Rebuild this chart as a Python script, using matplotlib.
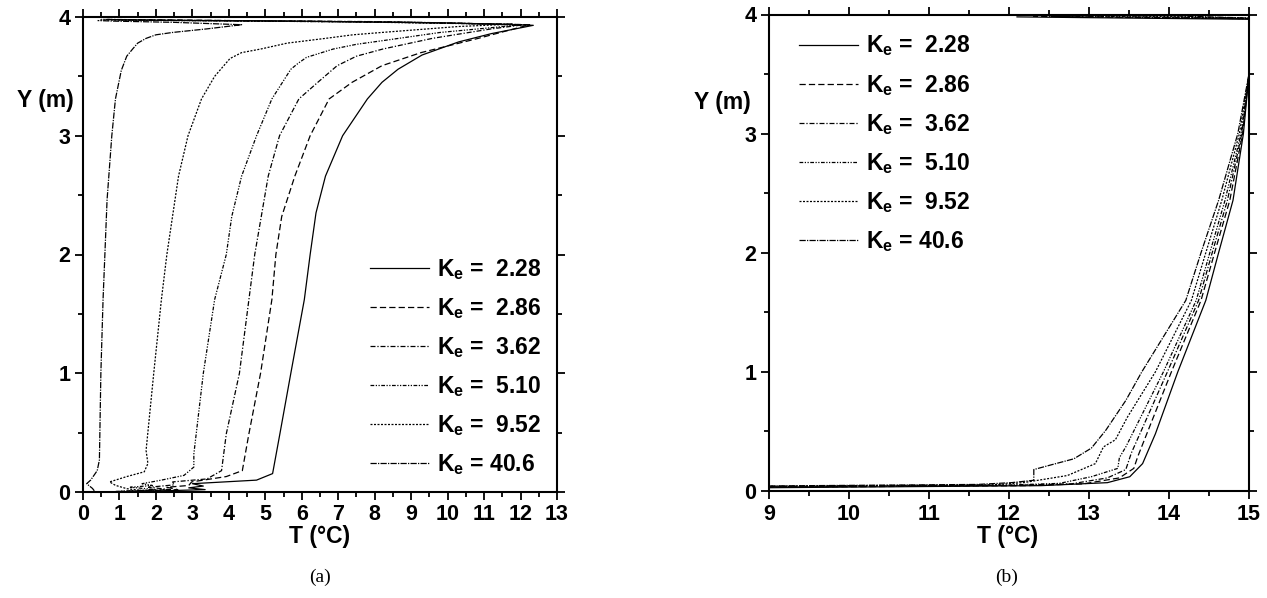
import matplotlib
matplotlib.use("Agg")
import matplotlib.pyplot as plt
from matplotlib.ticker import MultipleLocator

plt.rcParams['font.family'] = ['Liberation Sans Narrow', 'Liberation Sans', 'DejaVu Sans']
plt.rcParams['mathtext.fontset'] = 'custom'
plt.rcParams['mathtext.bf'] = 'Liberation Sans:bold'
plt.rcParams['mathtext.rm'] = 'Liberation Sans:bold'
plt.rcParams['mathtext.default'] = 'bf'

labels = ["2.28", "2.86", "3.62", "5.10", "9.52", "40.6"]

# ---------- panel (a) ----------
a_T_228 = [1.6, 3.35, 2.9, 3.3, 3.0, 4.76, 5.2, 5.4, 5.7, 6.07, 6.23, 6.39, 6.65, 7.12, 7.8, 8.2, 8.64, 9.3, 10.3, 11.2, 12.35, 10.0, 6.0, 1.0]
a_Y_228 = [0.005, 0.02, 0.035, 0.05, 0.07, 0.10, 0.155, 0.49, 1.0, 1.62, 2.0, 2.35, 2.66, 3.0, 3.31, 3.45, 3.56, 3.68, 3.79, 3.86, 3.93, 3.95, 3.965, 3.975]
a_T_286 = [1.2, 2.6, 2.3, 2.9, 2.98, 3.93, 4.37, 4.55, 4.87, 5.18, 5.29, 5.45, 5.81, 6.23, 6.75, 7.38, 8.2, 9.27, 10.84, 11.7, 12.25, 9.0, 4.0, 0.8]
a_Y_286 = [0.005, 0.02, 0.04, 0.055, 0.085, 0.13, 0.18, 0.49, 1.0, 1.62, 2.0, 2.32, 2.66, 3.0, 3.31, 3.45, 3.59, 3.7, 3.82, 3.89, 3.935, 3.955, 3.97, 3.978]
a_T_362 = [1.0, 2.4, 1.8, 2.5, 2.46, 3.4, 3.8, 3.93, 4.29, 4.55, 4.71, 5.08, 5.39, 5.92, 6.44, 6.97, 7.5, 8.22, 9.58, 11.2, 12.1, 8.5, 3.0, 0.6]
a_Y_362 = [0.005, 0.02, 0.04, 0.06, 0.085, 0.11, 0.18, 0.49, 1.0, 1.62, 2.0, 2.66, 3.0, 3.31, 3.45, 3.59, 3.67, 3.73, 3.82, 3.9, 3.935, 3.96, 3.972, 3.98]
a_T_510 = [0.9, 2.0, 1.3, 1.9, 1.62, 2.15, 2.77, 3.04, 3.04, 3.3, 3.61, 3.93, 4.08, 4.35, 4.76, 5.18, 5.7, 5.9, 6.13, 6.86, 7.5, 8.2, 9.8, 11.2, 12.0, 8.0, 2.5, 0.5]
a_Y_510 = [0.005, 0.02, 0.04, 0.055, 0.07, 0.10, 0.14, 0.21, 0.32, 1.0, 1.62, 2.0, 2.32, 2.66, 3.0, 3.31, 3.56, 3.61, 3.66, 3.73, 3.77, 3.8, 3.87, 3.91, 3.935, 3.958, 3.97, 3.98]
a_T_952 = [1.73, 1.2, 0.89, 0.73, 1.2, 1.68, 1.78, 1.73, 1.94, 2.15, 2.3, 2.62, 2.88, 3.25, 3.61, 4.03, 4.35, 4.87, 5.6, 6.65, 7.4, 8.2, 10.3, 11.8, 7.0, 2.0, 0.45]
a_Y_952 = [0.008, 0.028, 0.056, 0.085, 0.13, 0.17, 0.24, 0.35, 1.0, 1.62, 2.0, 2.66, 3.0, 3.31, 3.5, 3.65, 3.7, 3.73, 3.78, 3.82, 3.85, 3.87, 3.92, 3.94, 3.96, 3.972, 3.975]
a_T_406 = [0.31, 0.26, 0.1, 0.21, 0.39, 0.45, 0.49, 0.55, 0.6, 0.66, 0.79, 0.89, 1.05, 1.2, 1.36, 1.5, 1.73, 2.0, 2.46, 3.4, 4.35, 2.5, 0.9, 0.4]
a_Y_406 = [0.01, 0.03, 0.07, 0.10, 0.18, 0.27, 1.0, 1.62, 2.0, 2.46, 3.0, 3.31, 3.55, 3.67, 3.73, 3.78, 3.82, 3.85, 3.87, 3.9, 3.935, 3.955, 3.965, 3.97]

# ---------- panel (b) ----------
b_T_228 = [8.5, 12.4, 13.23, 13.51, 13.67, 13.83, 14.11, 14.46, 14.62, 14.8, 14.93, 15.0, 15.0, 13.5, 12.1]
b_Y_228 = [0.025, 0.045, 0.07, 0.12, 0.23, 0.48, 1.0, 1.6, 2.0, 2.44, 3.0, 3.5, 3.96, 3.97, 3.98]
b_T_286 = [8.5, 12.2, 12.93, 13.38, 13.56, 13.61, 14.03, 14.4, 14.57, 14.76, 14.92, 15.0, 15.0, 12.3]
b_Y_286 = [0.03, 0.045, 0.06, 0.11, 0.19, 0.29, 1.0, 1.6, 2.0, 2.44, 3.0, 3.5, 3.965, 3.985]
b_T_362 = [8.5, 12.0, 12.78, 13.23, 13.46, 13.53, 13.98, 14.37, 14.54, 14.73, 14.91, 15.0, 15.0, 12.5]
b_Y_362 = [0.032, 0.048, 0.06, 0.11, 0.18, 0.32, 1.0, 1.6, 2.0, 2.44, 3.0, 3.5, 3.965, 3.985]
b_T_510 = [8.5, 12.0, 12.63, 13.03, 13.36, 13.38, 13.46, 13.93, 14.34, 14.51, 14.7, 14.9, 15.0, 15.0, 13.0]
b_Y_510 = [0.035, 0.05, 0.064, 0.12, 0.19, 0.28, 0.37, 1.0, 1.6, 2.0, 2.44, 3.0, 3.5, 3.97, 3.985]
b_T_952 = [8.5, 11.8, 12.18, 12.73, 13.08, 13.18, 13.33, 13.48, 13.83, 14.28, 14.46, 14.66, 14.88, 15.0, 15.0, 13.5]
b_Y_952 = [0.038, 0.052, 0.07, 0.13, 0.23, 0.37, 0.43, 0.62, 1.0, 1.6, 2.0, 2.44, 3.0, 3.5, 3.97, 3.988]
b_T_406 = [8.5, 11.6, 12.03, 12.31, 12.31, 12.53, 12.81, 13.03, 13.21, 13.46, 13.66, 14.21, 14.4, 14.62, 14.86, 15.0, 15.0, 14.0]
b_Y_406 = [0.04, 0.055, 0.07, 0.09, 0.18, 0.22, 0.27, 0.36, 0.51, 0.76, 1.0, 1.6, 2.0, 2.44, 3.0, 3.5, 3.97, 3.99]

a_series = [(a_T_228, a_Y_228), (a_T_286, a_Y_286), (a_T_362, a_Y_362),
            (a_T_510, a_Y_510), (a_T_952, a_Y_952), (a_T_406, a_Y_406)]
b_series = [(b_T_228, b_Y_228), (b_T_286, b_Y_286), (b_T_362, b_Y_362),
            (b_T_510, b_Y_510), (b_T_952, b_Y_952), (b_T_406, b_Y_406)]

styles = [
    '-',
    (0, (5, 2.5)),
    (0, (4, 1.5, 1, 1.5)),
    (0, (3, 1.2, 1, 1.2, 1, 1.2)),
    (0, (1.6, 1.2)),
    (0, (5, 1, 1, 1)),
]

fig = plt.figure(figsize=(12.67, 5.98), dpi=100)
axA = fig.add_axes([83/1267, 1-492/598, 474/1267, 475/598])
axB = fig.add_axes([769/1267, 1-491/598, 480/1267, 476.5/598])

def style_axes(ax, xlim, ylim):
    ax.set_xlim(*xlim)
    ax.set_ylim(*ylim)
    ax.xaxis.set_major_locator(MultipleLocator(1))
    ax.xaxis.set_minor_locator(MultipleLocator(0.5))
    ax.yaxis.set_major_locator(MultipleLocator(1))
    ax.yaxis.set_minor_locator(MultipleLocator(0.5))
    ax.tick_params(which='both', direction='out', top=True, right=True,
                   labeltop=False, labelright=False, width=1.3)
    ax.tick_params(which='major', length=6, labelsize=15.5, pad=3)
    ax.tick_params(which='minor', length=3.5)
    for s in ax.spines.values():
        s.set_linewidth(1.5)
    for lab in ax.get_xticklabels() + ax.get_yticklabels():
        lab.set_fontweight('bold')

leg_labels = [r'K$_{\mathbf{e}}$ =  ' + l if l != "40.6" else r'K$_{\mathbf{e}}$ = ' + l for l in labels]

for ax, series in ((axA, a_series), (axB, b_series)):
    for (T, Y), ls, lab in zip(series, styles, leg_labels):
        ax.plot(T, Y, color='black', lw=0.9, linestyle=ls, label=lab)

style_axes(axA, (0, 13), (0, 4))
style_axes(axB, (9, 15), (0, 4))

legkw = dict(frameon=False, handlelength=2.6, handletextpad=0.35,
             labelspacing=0.62, borderpad=0, borderaxespad=0,
             prop={'weight': 'bold', 'size': 16.5})
axA.legend(loc='upper left', bbox_to_anchor=(0.605, 0.495), **legkw)
axB.legend(loc='upper left', bbox_to_anchor=(0.062, 0.96), **legkw)

fig.text(45/1267, 1-100/598, 'Y (m)', fontsize=16.5, fontweight='bold', ha='center', va='center')
fig.text(722/1267, 1-103/598, 'Y (m)', fontsize=16.5, fontweight='bold', ha='center', va='center')
fig.text(320/1267, 1-537/598, 'T (°C)', fontsize=16.5, fontweight='bold', ha='center', va='center')
fig.text(1008/1267, 1-537/598, 'T (°C)', fontsize=16.5, fontweight='bold', ha='center', va='center')
fig.text(320/1267, 1-577/598, '(a)', fontsize=14, family='Liberation Serif', ha='center', va='center')
fig.text(1007/1267, 1-577/598, '(b)', fontsize=14, family='Liberation Serif', ha='center', va='center')

fig.savefig('out.png', dpi=100)
